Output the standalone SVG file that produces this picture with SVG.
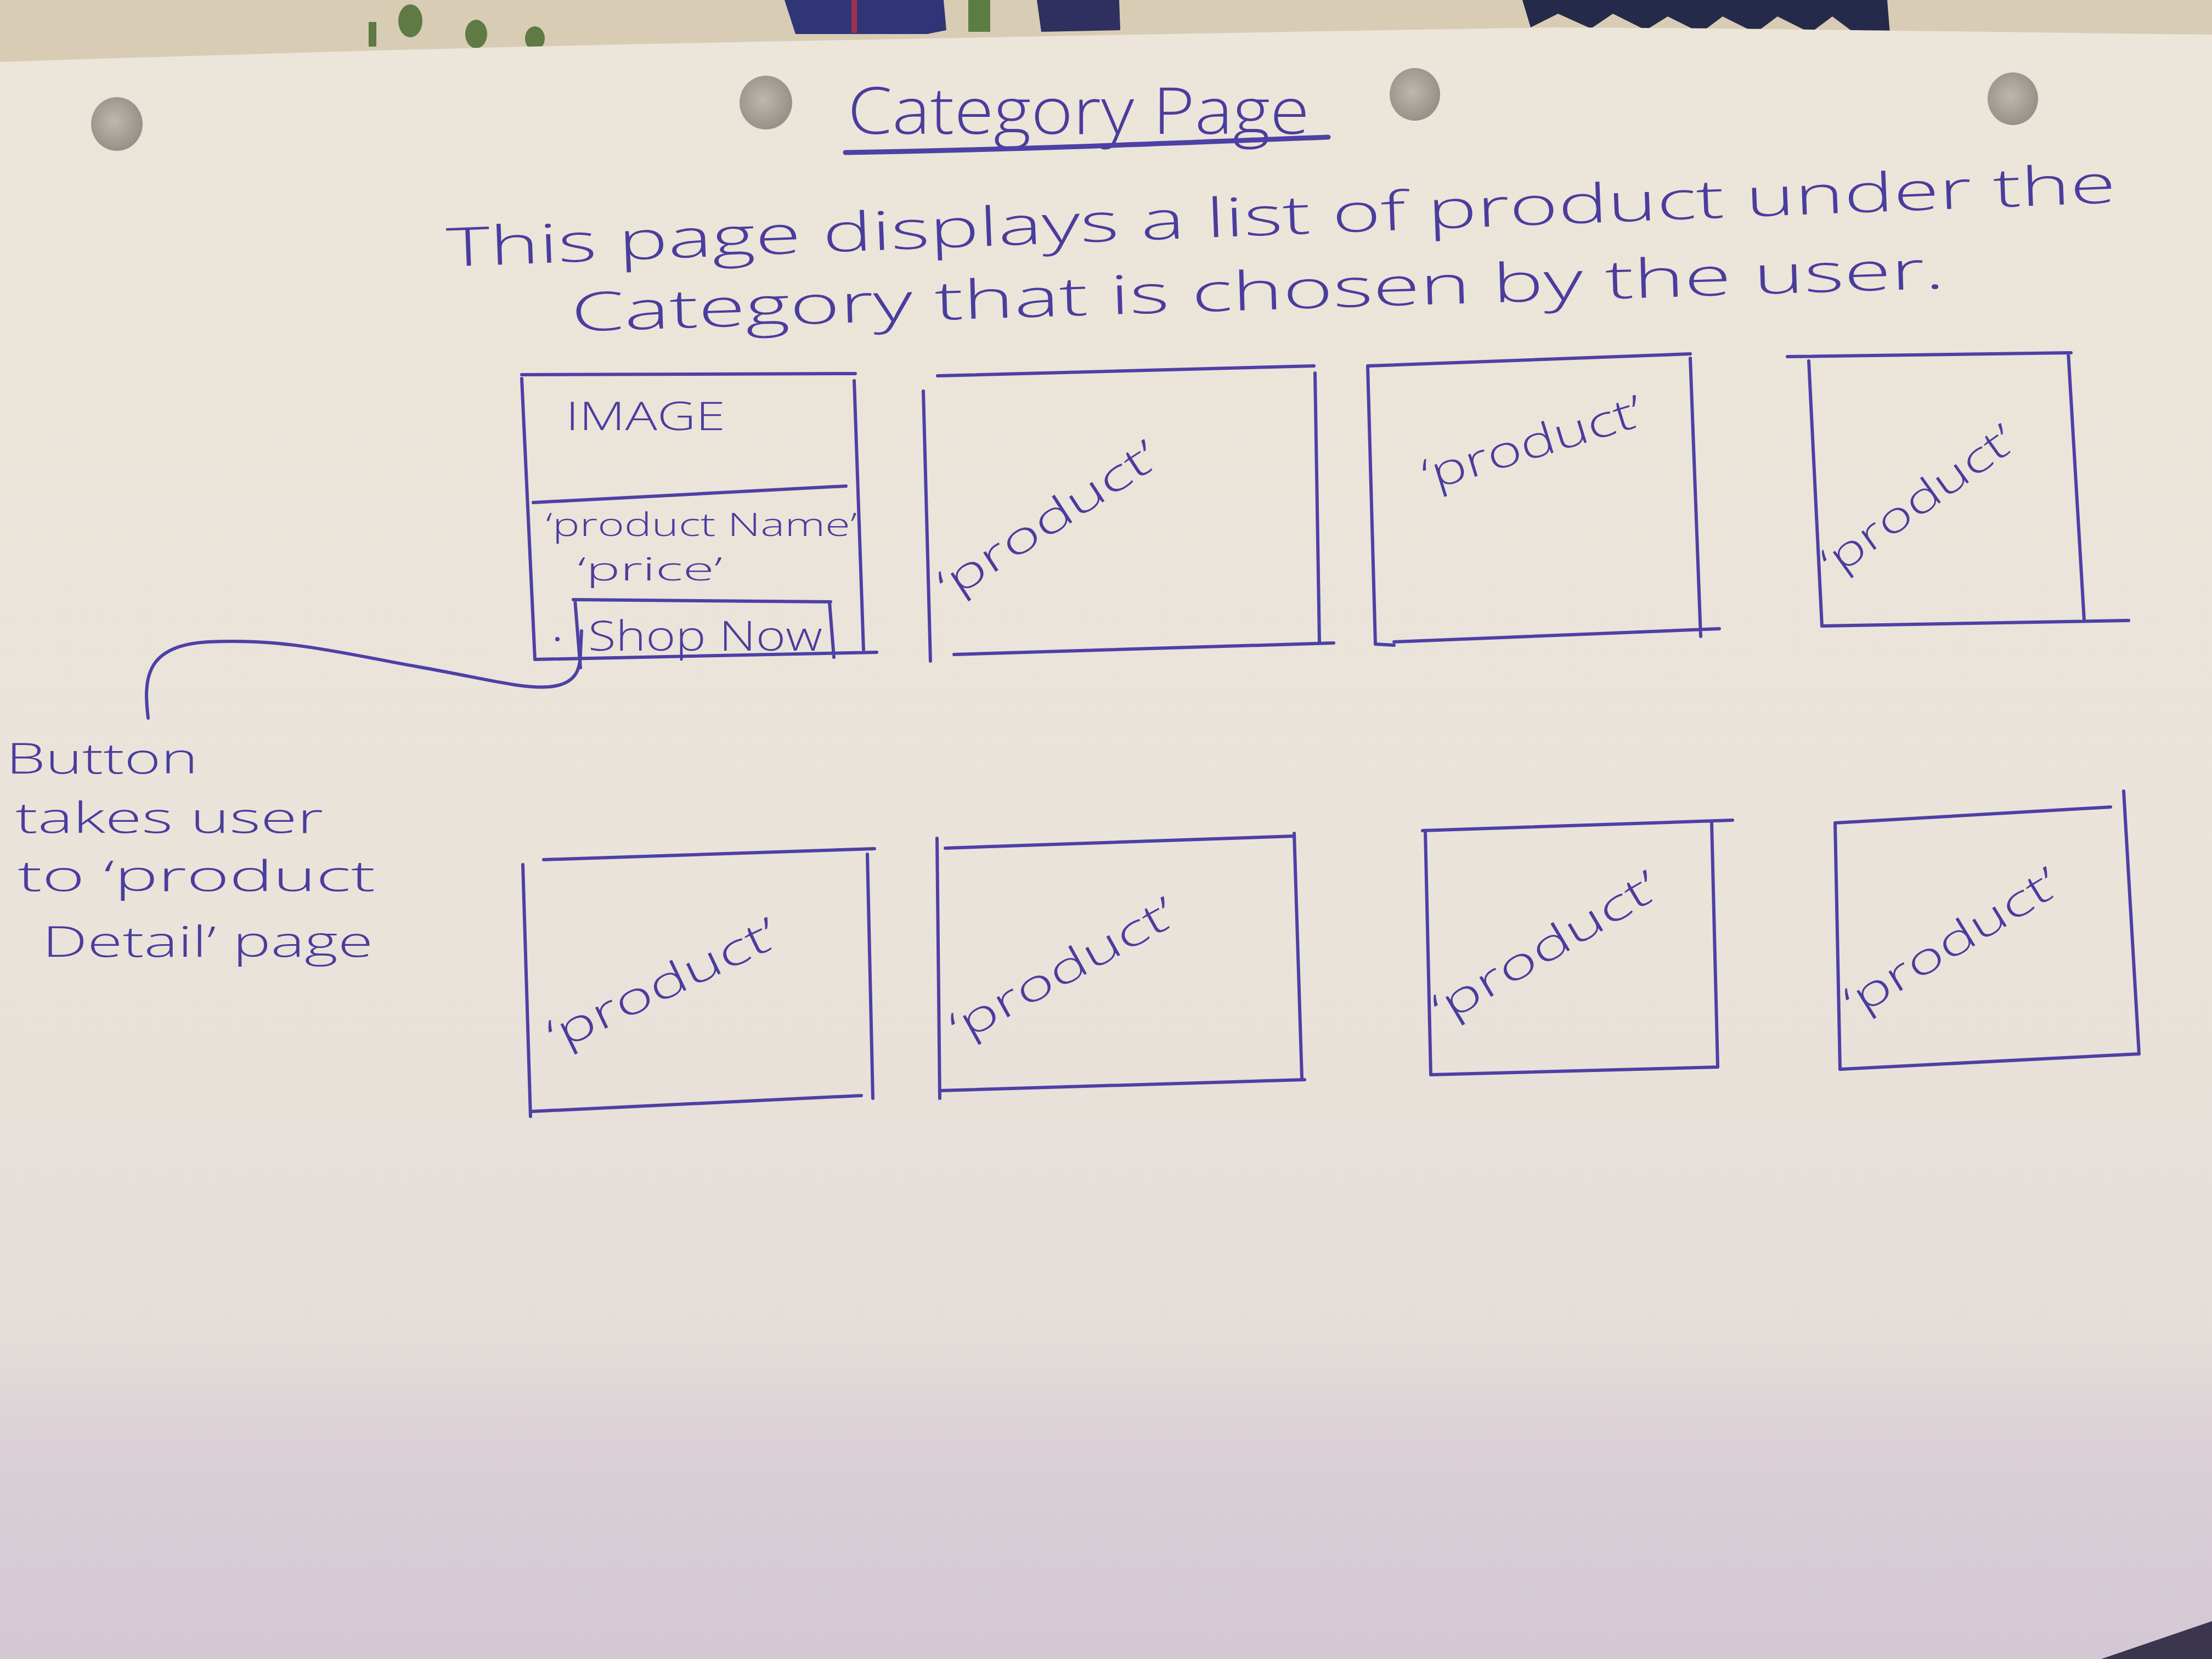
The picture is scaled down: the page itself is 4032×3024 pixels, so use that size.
<svg xmlns="http://www.w3.org/2000/svg" width="4032" height="3024" viewBox="0 0 4032 3024">
  <defs>
    <linearGradient id="paper" x1="0" y1="0" x2="0" y2="1">
      <stop offset="0" stop-color="#ece5d9"/>
      <stop offset="0.55" stop-color="#eae3da"/>
      <stop offset="0.8" stop-color="#e5ddd9"/>
      <stop offset="0.87" stop-color="#dad0d6"/>
      <stop offset="1" stop-color="#d3c8d4"/>
    </linearGradient>
    <radialGradient id="hole" cx="0.45" cy="0.45" r="0.6">
      <stop offset="0" stop-color="#bcb8b0"/>
      <stop offset="1" stop-color="#928e86"/>
    </radialGradient>
    <style>
      .ink { fill: none; stroke: #4d40a6; stroke-width: 6; stroke-linecap: round; stroke-linejoin: round; }
      .thick { stroke-width: 9; }
      .txt { fill: #4a3d9e; font-family: "Open Sans", "DejaVu Sans", "Liberation Sans", sans-serif; font-weight: 300; }
    </style>
  </defs>

  <!-- background: fabric and paper -->
  <rect x="0" y="0" width="4032" height="3024" fill="#d8ccb4"/>
  <g id="fabric-pattern">
    <ellipse cx="748" cy="38" rx="22" ry="30" fill="#5f7a45"/>
    <ellipse cx="868" cy="62" rx="20" ry="26" fill="#5f7a45"/>
    <ellipse cx="975" cy="70" rx="18" ry="22" fill="#5f7a45"/>
    <rect x="672" y="40" width="14" height="45" fill="#5f7a45"/>
    <path d="M1430,0 L1720,0 L1725,55 L1690,62 L1450,62 Z" fill="#2f3577"/>
    <rect x="1552" y="0" width="10" height="60" fill="#a03050"/>
    <rect x="1765" y="0" width="40" height="58" fill="#5b7d42"/>
    <path d="M1890,0 L2040,0 L2042,55 L1898,58 Z" fill="#2f3060"/>
    <path d="M2775,0 L3440,0 L3445,62 L3380,60 L3340,30 L3300,60 L3240,30 L3200,60 L3140,30 L3100,60 L3040,30 L3000,55 L2940,25 L2900,52 L2840,25 L2790,50 Z" fill="#262a4a"/>
  </g>
  <path d="M0,113 C400,100 900,85 1286,78 C1700,70 2100,62 2830,50 C3300,52 3700,60 4032,63 L4032,3024 L0,3024 Z" fill="url(#paper)"/>
  <path d="M3830,3024 L4032,2955 L4032,3024 Z" fill="#3b3550"/>

  <!-- punch holes -->
  <g id="holes">
    <ellipse cx="213" cy="226" rx="47" ry="49" fill="url(#hole)"/>
    <ellipse cx="1396" cy="187" rx="48" ry="49" fill="url(#hole)"/>
    <ellipse cx="2579" cy="172" rx="46" ry="48" fill="url(#hole)"/>
    <ellipse cx="3669" cy="180" rx="46" ry="48" fill="url(#hole)"/>
  </g>

  <!-- title -->
  <g id="title">
    <text class="txt" x="1545" y="244" font-size="118" textLength="842" lengthAdjust="spacingAndGlyphs">Category Page</text>
    <path class="ink thick" d="M1541,278 C1900,272 2200,258 2421,250"/>
  </g>

  <!-- description -->
  <g id="description">
    <text class="txt" x="815" y="486" font-size="98" textLength="3045" lengthAdjust="spacingAndGlyphs" transform="rotate(-2.2 815 486)">This page displays a list of product under the</text>
    <text class="txt" x="1042" y="604" font-size="98" textLength="2505" lengthAdjust="spacingAndGlyphs" transform="rotate(-1.8 1042 604)">Category that is chosen by the user.</text>
  </g>

  <!-- product card with details -->
  <g id="box-1">
    <path class="ink" d="M951,683 L1559,681 M951,690 L975,1202 M1557,694 L1574,1184 M975,1202 L1598,1189 M972,916 L1542,886 M1045,1093 L1514,1097 M1048,1093 L1058,1217 M1512,1098 L1520,1198"/>
    <circle cx="1016" cy="1165" r="4" fill="#4d40a6"/>
    <text class="txt" x="1031" y="784" font-size="72" textLength="291" lengthAdjust="spacingAndGlyphs">IMAGE</text>
    <text class="txt" x="995" y="977" font-size="58" textLength="567" lengthAdjust="spacingAndGlyphs">‘product Name’</text>
    <text class="txt" x="1053" y="1058" font-size="58" textLength="264" lengthAdjust="spacingAndGlyphs">‘price’</text>
    <text class="txt" x="1072" y="1186" font-size="76" textLength="427" lengthAdjust="spacingAndGlyphs">Shop Now</text>
  </g>

  <g id="box-2">
    <path class="ink" d="M1709,685 L2395,667 M1683,713 L1696,1205 M2397,680 L2405,1170 M1739,1193 L2431,1172"/>
    <text class="txt" x="1732" y="1096" font-size="78" textLength="460" lengthAdjust="spacingAndGlyphs" transform="rotate(-33 1732 1096)">‘product’</text>
  </g>

  <g id="box-3">
    <path class="ink" d="M2493,667 L3081,645 M2493,667 L2507,1174 M3081,653 L3100,1160 M2541,1170 L3134,1146 M2507,1174 L2541,1176"/>
    <text class="txt" x="2603" y="895" font-size="80" textLength="415" lengthAdjust="spacingAndGlyphs" transform="rotate(-17 2603 895)">‘product’</text>
  </g>

  <g id="box-4">
    <path class="ink" d="M3258,650 L3775,643 M3297,658 L3321,1141 M3770,643 L3799,1131 M3321,1141 L3880,1131"/>
    <text class="txt" x="3344" y="1054" font-size="76" textLength="413" lengthAdjust="spacingAndGlyphs" transform="rotate(-35.6 3344 1054)">‘product’</text>
  </g>

  <g id="box-5">
    <path class="ink" d="M991,1567 L1594,1547 M953,1576 L967,2035 M1581,1557 L1591,2002 M967,2026 L1570,1997"/>
    <text class="txt" x="1015" y="1917" font-size="80" textLength="454" lengthAdjust="spacingAndGlyphs" transform="rotate(-25.5 1015 1917)">‘product’</text>
  </g>

  <g id="box-6">
    <path class="ink" d="M1723,1546 L2359,1524 M1708,1528 L1713,2002 M2359,1519 L2373,1964 M1713,1988 L2378,1968"/>
    <text class="txt" x="1751" y="1902" font-size="78" textLength="456" lengthAdjust="spacingAndGlyphs" transform="rotate(-29 1751 1902)">‘product’</text>
  </g>

  <g id="box-7">
    <path class="ink" d="M2593,1514 L3158,1495 M2598,1514 L2608,1959 M3120,1500 L3131,1945 M2608,1959 L3131,1945"/>
    <text class="txt" x="2632" y="1868" font-size="78" textLength="463" lengthAdjust="spacingAndGlyphs" transform="rotate(-30.7 2632 1868)">‘product’</text>
  </g>

  <g id="box-8">
    <path class="ink" d="M3345,1500 L3847,1471 M3345,1500 L3354,1949 M3871,1442 L3899,1921 M3354,1949 L3899,1921"/>
    <text class="txt" x="3383" y="1856" font-size="78" textLength="442" lengthAdjust="spacingAndGlyphs" transform="rotate(-31.5 3383 1856)">‘product’</text>
  </g>

  <!-- annotation -->
  <g id="annotation">
    <text class="txt" x="11" y="1410" font-size="78" textLength="350" lengthAdjust="spacingAndGlyphs">Button</text>
    <text class="txt" x="28" y="1518" font-size="78" textLength="561" lengthAdjust="spacingAndGlyphs">takes user</text>
    <text class="txt" x="32" y="1624" font-size="78" textLength="652" lengthAdjust="spacingAndGlyphs">to ‘product</text>
    <text class="txt" x="77" y="1744" font-size="78" textLength="603" lengthAdjust="spacingAndGlyphs">Detail’ page</text>
  </g>

  <!-- connectors -->
  <g id="connectors">
    <path class="ink" d="M270,1309 C262,1240 262,1176 380,1170 C520,1163 620,1190 760,1215 C880,1236 950,1256 1000,1252 C1050,1248 1058,1220 1058,1190 L1060,1150"/>
  </g>
</svg>
